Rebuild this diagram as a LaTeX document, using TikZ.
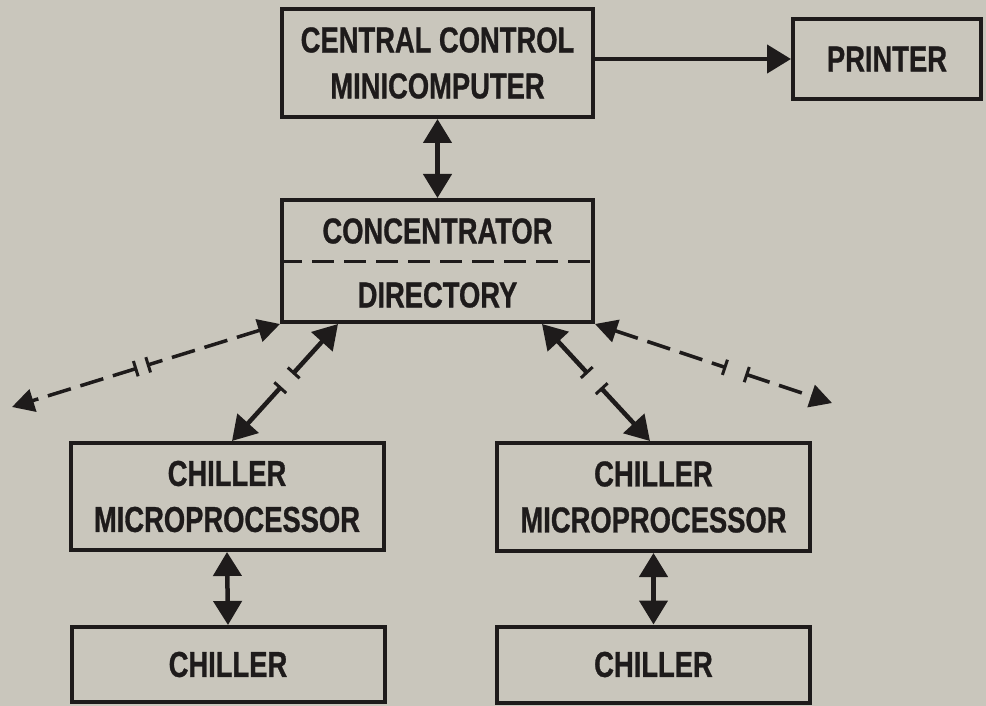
\documentclass[tikz,border=0pt]{standalone}
\usepackage{fontspec}
\setmainfont{Liberation Sans}[FakeStretch=0.76, BoldFeatures={FakeBold=0.8}]
\usetikzlibrary{arrows.meta,calc}

\definecolor{paper}{RGB}{201,198,188}
\definecolor{ink}{RGB}{30,27,27}

\tikzset{
  box/.style={draw=ink, line width=4pt, rectangle, inner sep=0pt,
    text=ink, font=\fontsize{36}{46}\selectfont\bfseries, align=center},
  label/.style={text=ink, font=\fontsize{36}{46}\selectfont\bfseries, inner sep=0pt},
  link/.style={draw=ink, line width=4.5pt, >={Triangle[length=24pt,width=28pt]}},
  dlink/.style={draw=ink, line width=3.5pt, dash pattern=on 24pt off 10pt,
    >={Triangle[length=22pt,width=23pt]}},
  tick/.style={draw=ink, line width=3pt},
  divider/.style={draw=ink, line width=3pt, dash pattern=on 22pt off 10pt}
}

% a two-headed link interrupted by a break marker
\newcommand\cutlink[5]{%
  \coordinate (cutA) at ($(#2)!#4!(#3)$);
  \coordinate (cutB) at ($(#2)!#5!(#3)$);
  \draw[#1,<-] (#2) -- (cutA);
  \draw[#1,->] (cutB) -- (#3);
  \draw[tick] ($(cutA)!8pt!90:(#3)$) -- ($(cutA)!8pt!-90:(#3)$);
  \draw[tick] ($(cutB)!8pt!90:(#3)$) -- ($(cutB)!8pt!-90:(#3)$);
}

\begin{document}
\begin{tikzpicture}[x=1pt, y=-1pt]
  \fill[paper] (0,0) rectangle (986,706);
  \useasboundingbox (0,0) rectangle (986,706);

  % boxes
  \node[box, minimum width=311pt, minimum height=108pt] (central) at (437.5,63)
    {CENTRAL CONTROL\\MINICOMPUTER};
  \node[box, minimum width=188pt, minimum height=80pt] (printer) at (887,59) {PRINTER};
  \node[box, minimum width=311pt, minimum height=122pt] (conc) at (437.5,261) {};
  \node[label] (conctop) at (437.5,231) {CONCENTRATOR};
  \node[label] (concbot) at (437.5,295) {DIRECTORY};
  \draw[divider] (conc.west) -- (conc.east);

  \node[box, minimum width=313pt, minimum height=107pt] (micro1) at (227,496.5)
    {CHILLER\\MICROPROCESSOR};
  \node[box, minimum width=313pt, minimum height=108pt] (micro2) at (653.5,497)
    {CHILLER\\MICROPROCESSOR};
  \node[box, minimum width=313pt, minimum height=75pt] (chill1) at (228,664.5) {CHILLER};
  \node[box, minimum width=313pt, minimum height=76pt] (chill2) at (653.5,664.5) {CHILLER};

  % plain links
  \draw[link,->] (central.east |- printer.west) -- (printer.west);
  \draw[link,<->] (central.south) -- (conc.north);
  \draw[link,<->] (micro1.south) -- (chill1.north);
  \draw[link,<->] (micro2.south) -- (chill2.north);

  % broken links from the concentrator
  \coordinate (cl) at ([xshift=58pt]conc.south west);
  \coordinate (cr) at ([xshift=-53pt]conc.south east);
  \coordinate (ml) at ([xshift=5pt]micro1.north);
  \coordinate (mr) at ([xshift=-3.5pt]micro2.north);
  \coordinate (farL) at (12,407);
  \coordinate (farR) at (832,403);

  \cutlink{link}{cl}{ml}{66pt}{86pt}
  \cutlink{link}{cr}{mr}{66pt}{88pt}
  \cutlink{dlink}{conc.south west}{farL}{138pt}{151pt}
  \cutlink{dlink}{conc.south east}{farR}{137pt}{160pt}
\end{tikzpicture}
\end{document}
